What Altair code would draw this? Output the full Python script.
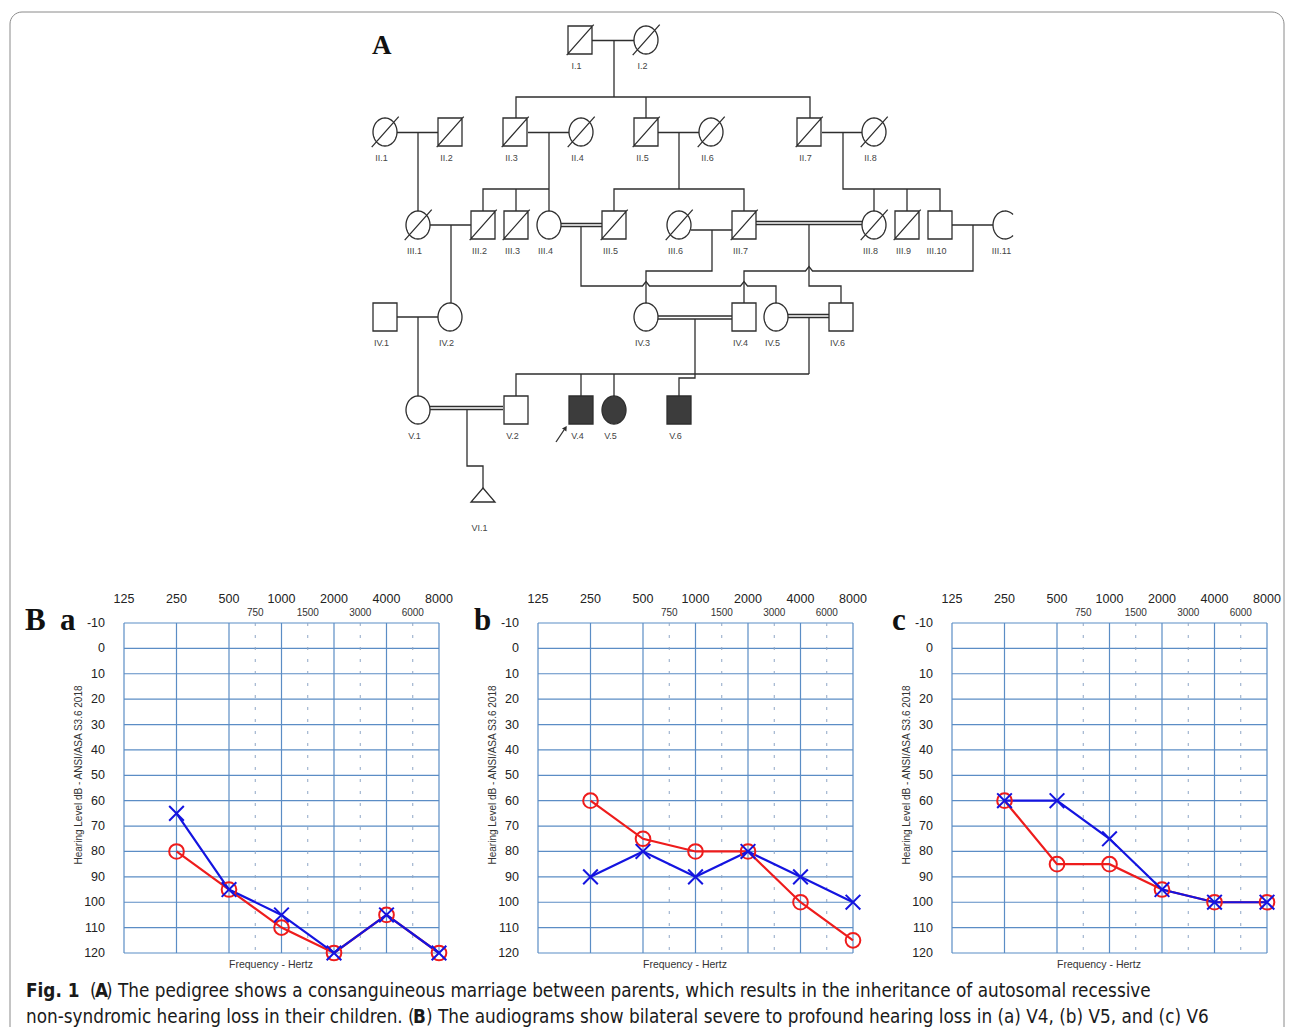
import math
import altair as alt
import pandas as pd

LINE = "#2e2e2e"
GRID = "#5b8dc5"
RED = "#ee1c1c"
BLUE = "#1414e0"
SANS = "Liberation Sans"
NARROW = "Liberation Sans Narrow, DejaVu Sans Condensed, Liberation Sans"
SERIF = "Liberation Serif"

# ---------------- Pedigree (A) ----------------
ped_id = ["I.1", "I.2",
          "II.1", "II.2", "II.3", "II.4", "II.5", "II.6", "II.7", "II.8",
          "III.1", "III.2", "III.3", "III.4", "III.5", "III.6", "III.7", "III.8", "III.9", "III.10", "III.11",
          "IV.1", "IV.2", "IV.3", "IV.4", "IV.5", "IV.6",
          "V.1", "V.2", "V.4", "V.5", "V.6",
          "VI.1"]
ped_x = [580, 646,
         385, 450, 515, 581, 646, 711, 809, 874,
         418, 483, 516, 549, 614, 679, 744, 874, 907, 940, 1005,
         385, 450, 646, 744, 776, 841,
         418, 516, 581, 614, 679,
         483]
ped_y = [40] * 2 + [132] * 8 + [225] * 11 + [317] * 6 + [410] * 5 + [495]
ped_kind = ["Md", "Fd",
            "Fd", "Md", "Md", "Fd", "Md", "Fd", "Md", "Fd",
            "Fd", "Md", "Md", "F", "Md", "Fd", "Md", "Fd", "Md", "M", "Fc",
            "M", "F", "F", "M", "F", "M",
            "F", "M", "M", "F", "M",
            "U"]
ped_affected = ["V.4", "V.5", "V.6"]
ped_status = ["affected" if i in ped_affected else "unaffected" for i in ped_id]
ped_label_dy = [26] * 32 + [33]

# connecting lines of the pedigree (marriage, descent, sibship, consanguinity double lines)
ped_lines = [
    [(592, 40.5), (634, 40.5)],
    [(614, 40.5), (614, 97)],
    [(516, 118), (516, 97), (810, 97), (810, 118)],
    [(646, 97), (646, 118)],
    [(397, 132.5), (438, 132.5)],
    [(418, 132.5), (418, 211)],
    [(528, 132.5), (569, 132.5)],
    [(549, 132.5), (549, 211)],
    [(483, 211), (483, 189), (549, 189)],
    [(516, 189), (516, 211)],
    [(658, 132.5), (699, 132.5)],
    [(679, 132.5), (679, 189)],
    [(614, 211), (614, 189), (744, 189), (744, 211)],
    [(822, 132.5), (862, 132.5)],
    [(843, 132.5), (843, 189), (940, 189), (940, 211)],
    [(874, 189), (874, 211)],
    [(907, 189), (907, 211)],
    [(430, 225), (471, 225)],
    [(451, 225), (451, 303)],
    [(561, 223.5), (602, 223.5)],
    [(561, 226.5), (602, 226.5)],
    [(581, 226.5), (581, 286), (642.5, 286), (646, 281.5), (649.5, 286),
     (740.5, 286), (744, 281.5), (747.5, 286), (776, 286), (776, 303)],
    [(691, 230), (732, 230)],
    [(712, 230), (712, 271), (646, 271), (646, 303)],
    [(756, 221.5), (862, 221.5)],
    [(756, 224.5), (862, 224.5)],
    [(809, 224.5), (809, 286), (841, 286), (841, 303)],
    [(952, 225), (993, 225)],
    [(973, 225), (973, 271), (812.5, 271), (809, 266.5), (805.5, 271), (744, 271), (744, 303)],
    [(397, 317), (438, 317)],
    [(418, 317), (418, 396)],
    [(658, 316), (732, 316)],
    [(658, 319), (732, 319)],
    [(695, 319), (695, 378), (679, 378), (679, 396)],
    [(788, 314.5), (829, 314.5)],
    [(788, 317.5), (829, 317.5)],
    [(809, 317.5), (809, 374)],
    [(516, 396), (516, 374), (809, 374)],
    [(581, 374), (581, 396)],
    [(614, 374), (614, 396)],
    [(430, 406.5), (503, 406.5)],
    [(430, 409.5), (503, 409.5)],
    [(467, 409.5), (467, 466), (483, 466), (483, 488)],
    [(556, 442), (564, 430)],
]
proband_head = (565.5, 428)

caption_text = ["Fig. 1", "(", "A",
                ") The pedigree shows a consanguineous marriage between parents, which results in the inheritance of autosomal recessive",
                "non-syndromic hearing loss in their children. (", "B",
                ") The audiograms show bilateral severe to profound hearing loss in (a) V4, (b) V5, and (c) V6"]
caption_x = [26, 90, 95, 106, 26, 413, 426]
caption_y = [997, 997, 997, 997, 1023, 1023, 1023]
caption_bold = [True, False, True, False, False, True, False]

# ---------------- Audiograms (B) ----------------
oct_freqs = [125, 250, 500, 1000, 2000, 4000, 8000]
half_lo = [500, 1000, 2000, 4000]
half_labels = ["750", "1500", "3000", "6000"]
db_ticks = list(range(-10, 121, 10))
freqs = [250, 500, 1000, 2000, 4000, 8000]

a_right = [80, 95, 110, 120, 105, 120]
a_left = [65, 95, 105, 120, 105, 120]
b_right = [60, 75, 80, 80, 100, 115]
b_left = [90, 80, 90, 80, 90, 100]
c_right = [60, 85, 85, 95, 100, 100]
c_left = [60, 60, 75, 95, 100, 100]

# ---------------- layout (canvas = page minus the 8px body margin) ----------------
CW, CH = 1277, 1019
OFF = 8
AW, AH = 315, 330
A_TOP = 623 - OFF
PANEL_LEFT = [124 - OFF, 538 - OFF, 952 - OFF]

# ---------------- symbol shapes ----------------
RX = 0.857


def ell(t0, t1, n, close):
    pts = []
    for k in range(n + 1):
        t = math.radians(t0 + (t1 - t0) * k / n)
        pts.append(f"{RX * math.cos(t):.3f},{math.sin(t):.3f}")
    return "M" + "L".join(pts) + ("Z" if close else "")


SQ = f"M{-RX},-1L{RX},-1L{RX},1L{-RX},1Z"
EL = ell(0, 360, 48, True)
SLASH = "M-0.95,1.08L0.98,-1.1"
CSHAPE = ell(-48, -312, 40, False)
TRI = f"M0,-0.5L{RX},0.5L{-RX},0.5Z"
kind_domain = ["M", "F", "Md", "Fd", "Fc", "U"]
kind_range = [SQ, EL, SQ + SLASH, EL + SLASH, CSHAPE, TRI]

# ---------------- pedigree layer group (page-pixel coordinate system) ----------------
PX = alt.Scale(domain=[OFF, OFF + CW], range=[0, CW], nice=False, zero=False)
PY = alt.Scale(domain=[OFF, OFF + CH], range=[0, CH], nice=False, zero=False)


def pxy(fx="x", fy="y"):
    return dict(x=alt.X(f"{fx}:Q", scale=PX, axis=None), y=alt.Y(f"{fy}:Q", scale=PY, axis=None))


ind_df = pd.DataFrame({"id": ped_id, "x": ped_x, "y": ped_y, "kind": ped_kind,
                       "status": ped_status, "dy": ped_label_dy})

rows = []
for s, seg in enumerate(ped_lines):
    for i, (x, y) in enumerate(seg):
        rows.append({"seg": s, "i": i, "x": x, "y": y})
lines_df = pd.DataFrame(rows)

# frame around the figure (runs off the bottom of the page)
R = 12
bx0, by0, bx1, by1 = 10, 12, 1284, 1040
frame = [(bx0, by1)]
for k in range(9):
    a = math.radians(180 + 90 * k / 8)
    frame.append((bx0 + R + R * math.cos(a), by0 + R + R * math.sin(a)))
for k in range(9):
    a = math.radians(270 + 90 * k / 8)
    frame.append((bx1 - R + R * math.cos(a), by0 + R + R * math.sin(a)))
frame.append((bx1, by1))
frame_df = pd.DataFrame({"i": range(len(frame)), "x": [p[0] for p in frame], "y": [p[1] for p in frame]})

frame_layer = alt.Chart(frame_df).mark_line(color="#8a8a8a", strokeWidth=1).encode(order="i:Q", **pxy())
line_layer = alt.Chart(lines_df).mark_line(color=LINE, strokeWidth=1.3).encode(
    detail="seg:N", order="i:Q", **pxy())
sym_layer = alt.Chart(ind_df).mark_point(filled=True, stroke=LINE, strokeWidth=1.3, size=784, opacity=1).encode(
    shape=alt.Shape("kind:N", scale=alt.Scale(domain=kind_domain, range=kind_range), legend=None),
    fill=alt.Fill("status:N", scale=alt.Scale(domain=["unaffected", "affected"], range=["white", "#3c3c3c"]),
                  legend=None),
    **pxy())
lab_layer = alt.Chart(ind_df).transform_calculate(lx="datum.x - 3.5", ly="datum.y + datum.dy").mark_text(
    font=SANS, fontSize=9, color="#444", baseline="middle").encode(text="id:N", **pxy("lx", "ly"))
head_layer = alt.Chart(pd.DataFrame({"x": [proband_head[0]], "y": [proband_head[1]]})).mark_point(
    shape="triangle-up", filled=True, color=LINE, size=28, angle=34, opacity=1).encode(**pxy())
letterA = alt.Chart(pd.DataFrame({"t": ["A"]})).mark_text(
    font=SERIF, fontWeight="bold", fontSize=27, align="left", baseline="alphabetic", color="#111").encode(
    text="t:N", x=alt.value(372 - OFF), y=alt.value(54 - OFF))

cap_df = pd.DataFrame({"t": caption_text, "x": caption_x, "y": caption_y, "bold": caption_bold})
cap_norm = alt.Chart(cap_df).transform_filter("!datum.bold").mark_text(
    font=NARROW, fontSize=18.75, align="left", baseline="alphabetic", color="#1a1a1a").encode(text="t:N", **pxy())
cap_bold = alt.Chart(cap_df).transform_filter("datum.bold").mark_text(
    font=NARROW, fontSize=18.75, fontWeight="bold", align="left", baseline="alphabetic", color="#1a1a1a").encode(
    text="t:N", **pxy())

pedigree = alt.layer(frame_layer, line_layer, sym_layer, lab_layer, head_layer, letterA, cap_norm, cap_bold)

# ---------------- audiogram layer groups ----------------
XPATH = "M-1,-1L1,1M-1,1L1,-1"


def audiogram(right, left, letters, x0):
    xs = alt.Scale(type="log", base=2, domain=[125, 8000], range=[x0, x0 + AW], nice=False)
    ys = alt.Scale(domain=[-10, 120], range=[A_TOP, A_TOP + AH], nice=False, zero=False)
    xq = alt.X("freq:Q", scale=xs, axis=None)
    yq = alt.Y("db:Q", scale=ys, axis=None)

    data = pd.DataFrame({"freq": freqs + freqs, "db": right + left,
                         "ear": ["right"] * len(freqs) + ["left"] * len(freqs)})
    octs = alt.Chart(pd.DataFrame({"freq": oct_freqs}))
    dbs = alt.Chart(pd.DataFrame({"db": db_ticks})).transform_calculate(lab="toString(datum.db)")
    half = alt.Chart(pd.DataFrame({"lo": half_lo, "lab": half_labels})).transform_calculate(
        freq="datum.lo * sqrt(2)")

    vgrid = octs.mark_rule(color=GRID, strokeWidth=1.2).encode(
        x=xq, y=alt.value(A_TOP), y2=alt.value(A_TOP + AH))
    hgrid = dbs.mark_rule(color=GRID, strokeWidth=1.2).encode(
        y=yq, x=alt.value(x0), x2=alt.value(x0 + AW))
    dashed = half.mark_rule(color="#8ea6c6", strokeWidth=1, strokeDash=[3, 9]).encode(
        x=xq, y=alt.value(A_TOP), y2=alt.value(A_TOP + AH))
    top_lab = octs.mark_text(font=SANS, fontSize=12.5, color="#222", baseline="middle").encode(
        x=xq, y=alt.value(A_TOP - 24), text=alt.Text("freq:Q", format="d"))
    half_lab = half.mark_text(font=SANS, fontSize=10, color="#333", baseline="middle").encode(
        x=xq, y=alt.value(A_TOP - 10), text="lab:N")
    y_lab = dbs.mark_text(font=SANS, fontSize=12.5, color="#222", baseline="middle", align="right").encode(
        y=yq, x=alt.value(x0 - 19), text="lab:N")

    base = alt.Chart(data)
    r_line = base.transform_filter("datum.ear == 'right'").mark_line(strokeWidth=2.2, color=RED).encode(x=xq, y=yq)
    l_line = base.transform_filter("datum.ear == 'left'").mark_line(strokeWidth=2.2, color=BLUE).encode(x=xq, y=yq)
    r_pts = base.transform_filter("datum.ear == 'right'").mark_point(
        shape="circle", filled=False, strokeWidth=2, size=215, color=RED, opacity=1).encode(x=xq, y=yq)
    l_pts = base.transform_filter("datum.ear == 'left'").mark_point(
        shape=XPATH, filled=False, strokeWidth=2, size=215, color=BLUE, opacity=1).encode(x=xq, y=yq)

    ytitle = alt.Chart(pd.DataFrame({"t": ["Hearing Level dB - ANSI/ASA S3.6 2018"]})).mark_text(
        font=SANS, fontSize=10, color="#333", angle=270, baseline="middle").encode(
        text="t:N", x=alt.value(x0 - 45), y=alt.value(A_TOP + 152))
    xtitle = alt.Chart(pd.DataFrame({"t": ["Frequency - Hertz"]})).mark_text(
        font=SANS, fontSize=10.5, color="#333", baseline="middle").encode(
        text="t:N", x=alt.value(x0 + 147), y=alt.value(A_TOP + 342))
    layers = [vgrid, hgrid, dashed, top_lab, half_lab, y_lab, r_line, l_line, r_pts, l_pts, ytitle, xtitle]
    for txt, dx in letters:
        layers.append(alt.Chart(pd.DataFrame({"t": [txt]})).mark_text(
            font=SERIF, fontWeight="bold", fontSize=31, align="left", baseline="alphabetic", color="#111").encode(
            text="t:N", x=alt.value(x0 + dx), y=alt.value(A_TOP + 7)))
    return alt.layer(*layers)


pa = audiogram(a_right, a_left, [("B", -99), ("a", -64)], PANEL_LEFT[0])
pb = audiogram(b_right, b_left, [("b", -64)], PANEL_LEFT[1])
pc = audiogram(c_right, c_left, [("c", -60)], PANEL_LEFT[2])

chart = alt.layer(pedigree, pa, pb, pc).resolve_scale(x="independent", y="independent").properties(
    width=CW, height=CH, padding=0, autosize=alt.AutoSizeParams(type="none")
).configure_view(stroke="transparent")

chart.save("out.html", embed_options={"renderer": "svg", "actions": False})
